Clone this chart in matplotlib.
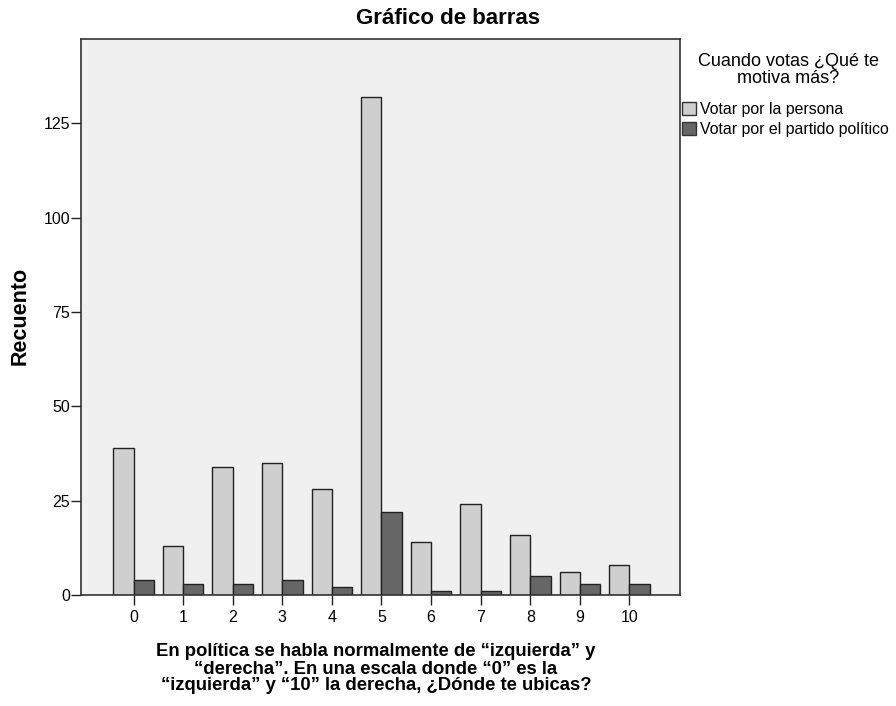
import matplotlib
matplotlib.use("Agg")
import matplotlib.pyplot as plt
import numpy as np
from matplotlib.patches import Patch

plt.rcParams['font.family'] = ['Liberation Sans', 'DejaVu Sans']

categories = ['0', '1', '2', '3', '4', '5', '6', '7', '8', '9', '10']
persona = [39, 13, 34, 35, 28, 132, 14, 24, 16, 6, 8]
partido = [4, 3, 3, 4, 2, 22, 1, 1, 5, 3, 3]
series_names = ['Votar por la persona', 'Votar por el partido político']
yticks = [0, 25, 50, 75, 100, 125]

light = '#CFCFCF'
dark = '#666666'

fig = plt.figure(figsize=(8.96, 7.06), dpi=100)
L, R, T, B = 81, 680, 39, 595
ax = fig.add_axes([L/896, 1-B/706, (R-L)/896, (B-T)/706])
ax.set_facecolor('#F0F0F0')

x = np.arange(len(categories))
w = 0.41
ax.bar(x - w/2, persona, width=w, color=light, edgecolor='#222222', linewidth=1.0)
ax.bar(x + w/2, partido, width=w, color=dark, edgecolor='#222222', linewidth=1.0)

ax.set_xlim(-1.06, 11.02)
ax.set_ylim(0, 147.3)
ax.set_yticks(yticks)
ax.set_xticks(x)
ax.set_xticklabels(categories)
ax.tick_params(axis='both', direction='out', length=7, width=1, labelsize=11.5, color='#222222')
ax.tick_params(axis='y', pad=1)
ax.tick_params(axis='x', pad=4)
for s in ax.spines.values():
    s.set_linewidth(1.2)
    s.set_color('#333333')

fig.text(448/896, 1-19/706, 'Gráfico de barras', ha='center', va='center',
         fontsize=16, fontweight='bold')
fig.text(20/896, 1-316/706, 'Recuento', ha='center', va='center', rotation=90,
         fontsize=15.5, fontweight='bold')
fig.text(376/896, 1-669/706,
         'En política se habla normalmente de “izquierda” y\n“derecha”. En una escala donde “0” es la\n“izquierda” y “10” la derecha, ¿Dónde te ubicas?',
         ha='center', va='center', fontsize=13.3, fontweight='bold', linespacing=1.0)

fig.text(788/896, 1-70/706, 'Cuando votas ¿Qué te\nmotiva más?', ha='center', va='center',
         fontsize=13, linespacing=1.0)
handles = [Patch(facecolor=light, edgecolor='#333333', label=series_names[0]),
           Patch(facecolor=dark, edgecolor='#333333', label=series_names[1])]
fig.legend(handles=handles, loc='upper left', bbox_to_anchor=(682/896, 1-102/706),
           frameon=False, fontsize=11.4, handlelength=0.9, handleheight=0.9,
           handletextpad=0.25, labelspacing=0.3, borderpad=0, borderaxespad=0)

fig.savefig('out.png', dpi=100, facecolor='white')
